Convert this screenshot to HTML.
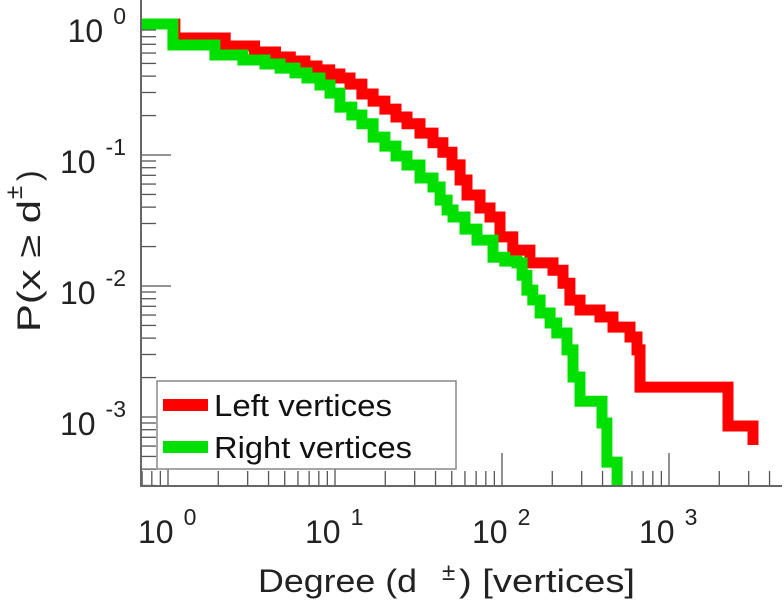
<!DOCTYPE html>
<html><head><meta charset="utf-8"><style>
html,body{margin:0;padding:0;background:#fff;}
svg{display:block;font-family:"Liberation Sans",sans-serif;}
</style></head><body>
<svg id="chart" width="784" height="600" viewBox="0 0 784 600" xmlns="http://www.w3.org/2000/svg">
<defs><clipPath id="plotclip"><rect x="140" y="0" width="644" height="486"/></clipPath></defs>
<g id="ticks"></g>
<g id="series" clip-path="url(#plotclip)"></g>
<line x1="141" y1="0" x2="141" y2="487" stroke="#666" stroke-width="2"/>
<line x1="140" y1="486" x2="782" y2="486" stroke="#666" stroke-width="2"/>
<g id="labels" font-size="32" fill="#222"></g>
<g fill="#222">
<text x="258" y="592" font-size="32" textLength="159" lengthAdjust="spacingAndGlyphs">Degree (d</text>
<text x="442" y="580" font-size="24">±</text>
<text x="459" y="592" font-size="32" textLength="176" lengthAdjust="spacingAndGlyphs">) [vertices]</text>
</g>
<g fill="#222">
<text transform="translate(40,332) rotate(-90)" font-size="32" textLength="132" lengthAdjust="spacingAndGlyphs">P(x ≥ d</text>
<text transform="translate(22,199) rotate(-90)" font-size="24">±</text>
<text transform="translate(40,181) rotate(-90)" font-size="32">)</text>
</g>
<g>
<rect x="157" y="381" width="299" height="88" fill="#fff" stroke="#888" stroke-width="1.5"/>
<line x1="163" y1="405" x2="208" y2="405" stroke="#ff0000" stroke-width="12"/>
<text x="214" y="416" font-size="31" fill="#111" textLength="178" lengthAdjust="spacingAndGlyphs">Left vertices</text>
<line x1="163" y1="447" x2="208" y2="447" stroke="#00e000" stroke-width="12"/>
<text x="214" y="458" font-size="31" fill="#111" textLength="198" lengthAdjust="spacingAndGlyphs">Right vertices</text>
</g>
</svg>
<script>
const leftDegrees=[0.68,1.1,2.2,3.3,4.4,5.4,6.6,7.8,9.3,10.7,12.3,14.5,16.9,19.9,23.2,27,32.3,38.6,44.3,50.2,56.1,61.7,73.8,84.7,97.3,116,147,202,232,255,293,386,462,584,643,670,2255,3185];
const leftProbs=[1.0,0.782,0.679,0.611,0.560,0.522,0.478,0.446,0.415,0.387,0.348,0.292,0.258,0.224,0.195,0.173,0.147,0.124,0.105,0.084,0.0644,0.0495,0.0394,0.0336,0.0237,0.0188,0.0150,0.0132,0.0105,0.0078,0.00656,0.0058,0.00486,0.00408,0.00325,0.00169,0.000853,0.000611];
const rightDegrees=[0.68,1.07,1.91,2.81,3.81,4.69,5.76,6.80,8.13,9.33,10.7,12.6,14.5,16.9,19.9,23.2,27.0,32.3,38.6,42.6,46.9,50.9,60.0,70.8,88.3,104,123,132,141,153,169,194,213,245,266,293,397,425,489];
const rightProbs=[1.0,0.691,0.580,0.531,0.495,0.461,0.423,0.387,0.342,0.297,0.232,0.202,0.173,0.137,0.117,0.0983,0.0839,0.0668,0.0570,0.0453,0.0380,0.0336,0.0272,0.0224,0.0166,0.0155,0.0150,0.0121,0.00931,0.00782,0.00622,0.00522,0.00438,0.00325,0.00202,0.00132,0.000900,0.000453,0.000277];
const xTickExps=[0,1,2,3];
const yTickExps=[0,-1,-2,-3];
const xLabels=["0","1","2","3"];
const yLabels=["0","-1","-2","-3"];

const NS="http://www.w3.org/2000/svg";
function xs(d){return 168+Math.log10(d)*167;}
function ys(p){return 24-Math.log10(p)*131;}
function mk(tag,attrs,parent){const e=document.createElementNS(NS,tag);for(const k in attrs)e.setAttribute(k,attrs[k]);parent.appendChild(e);return e;}

const ticks=document.getElementById('ticks');
for(let e=-1;e<=3;e++){for(let m=1;m<10;m++){const v=m*Math.pow(10,e);const x=xs(v);if(x<141||x>782)continue;
 const len=m===1?33:15;
 const t=mk('line',{x1:x,y1:486,x2:x,y2:486-len,stroke:'#555','stroke-width':1.3},ticks);
 
 }}
for(let e=-4;e<=0;e++){for(let m=1;m<10;m++){const v=m*Math.pow(10,e);const y=ys(v);if(y<0||y>486)continue;
 const len=m===1?30:15;
 const t=mk('line',{x1:141,y1:y,x2:141+len,y2:y,stroke:'#555','stroke-width':1.3},ticks);
 
 }}

const labels=document.getElementById('labels');
xTickExps.forEach((ex,i)=>{const x=xs(Math.pow(10,ex));
 const t=mk('text',{x:x-30,y:543},labels);
 
 
 t.innerHTML='10<tspan dx="10" dy="-18" font-size="23">'+xLabels[i]+'</tspan>';});
yTickExps.forEach((ex,i)=>{const y=ys(Math.pow(10,ex));
 const t=mk('text',{x:126,y:y+18,'text-anchor':'end'},labels);
 
 
 t.innerHTML='10<tspan dx="10" dy="-18" font-size="23">'+yLabels[i]+'</tspan>';});

function stepPath(ds,ps){let d='M'+xs(ds[0]).toFixed(1)+','+ys(ps[0]).toFixed(1);
 for(let i=1;i<ds.length;i++){d+=' H'+xs(ds[i]).toFixed(1)+' V'+ys(ps[i]).toFixed(1);}return d;}
const series=document.getElementById('series');
const pl=mk('path',{d:stepPath(leftDegrees,leftProbs),fill:'none',stroke:'#ff0000','stroke-width':11,'stroke-linejoin':'miter'},series);


const pr=mk('path',{d:stepPath(rightDegrees,rightProbs),fill:'none',stroke:'#00e000','stroke-width':11,'stroke-linejoin':'miter'},series);


</script>
</body></html>
